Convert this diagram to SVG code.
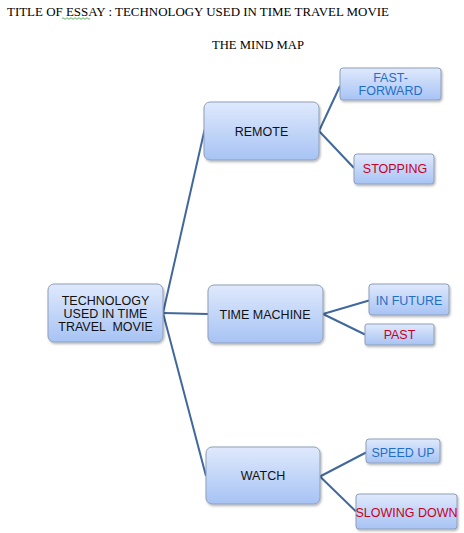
<svg xmlns="http://www.w3.org/2000/svg" width="464" height="533" viewBox="0 0 464 533">
<defs>
<linearGradient id="g" x1="0" y1="0" x2="0" y2="1">
<stop offset="0" stop-color="#dfe9fc"/>
<stop offset="1" stop-color="#a7c3f4"/>
</linearGradient>
<filter id="sh" x="-10%" y="-10%" width="130%" height="140%">
<feDropShadow dx="1" dy="1.5" stdDeviation="1" flood-color="#000" flood-opacity="0.3"/>
</filter>
</defs>
<style>
.box{fill:url(#g);stroke:#8f9fb8;stroke-width:1;filter:url(#sh)}
.t{font-family:"Liberation Sans",Arial,sans-serif;font-size:12.5px;text-anchor:middle}
.k{fill:#111}
.b{fill:#1f6fc8}
.r{fill:#c8001e}
.hd{font-family:"Liberation Serif","Times New Roman",serif;font-size:13px;fill:#000}
.c{stroke:#40689c;stroke-width:2;fill:none}
</style>
<rect width="464" height="533" fill="#fff"/>
<text class="hd" x="7" y="16" textLength="382" lengthAdjust="spacingAndGlyphs">TITLE OF ESSAY  :  TECHNOLOGY USED  IN TIME TRAVEL MOVIE</text>
<path d="M62 18.5 q1 -1.5 2 0 t2 0 t2 0 t2 0 t2 0 t2 0 t2 0 t2 0 t2 0 t2 0 t2 0 t2 0 t2 0 t2 0" stroke="#3aa03a" stroke-width="0.8" fill="none"/>
<text class="hd" x="212" y="48.5" textLength="92" lengthAdjust="spacingAndGlyphs">THE MIND MAP</text>
<g id="connectors">
<line class="c" x1="163" y1="313" x2="204.5" y2="130"/>
<line class="c" x1="163" y1="313" x2="208" y2="314"/>
<line class="c" x1="163" y1="313" x2="206" y2="476"/>
<line class="c" x1="319" y1="131" x2="340" y2="86"/>
<line class="c" x1="319" y1="131" x2="354" y2="168"/>
<line class="c" x1="323" y1="314" x2="369" y2="300.5"/>
<line class="c" x1="323" y1="314" x2="365" y2="334.5"/>
<line class="c" x1="320" y1="476.5" x2="366" y2="452.5"/>
<line class="c" x1="320" y1="476.5" x2="356" y2="511.5"/>
</g>
<g id="center">
<rect class="box" x="48" y="284" width="115" height="58" rx="6"/>
<text class="t k" x="105.5" y="305">TECHNOLOGY</text>
<text class="t k" x="105.5" y="318">USED IN TIME</text>
<text class="t k" x="105.5" y="331" xml:space="preserve">TRAVEL  MOVIE</text>
</g>
<g id="remote">
<rect class="box" x="204" y="102" width="115" height="58" rx="6"/>
<text class="t k" x="261.5" y="135.5">REMOTE</text>
</g>
<g id="timemachine">
<rect class="box" x="208" y="285" width="115" height="58" rx="6"/>
<text class="t k" x="265" y="319">TIME MACHINE</text>
</g>
<g id="watch">
<rect class="box" x="206" y="447" width="114" height="57" rx="6"/>
<text class="t k" x="263" y="480">WATCH</text>
</g>
<g id="fastforward">
<rect class="box" x="340" y="68" width="101" height="32" rx="3"/>
<text class="t b" x="390.5" y="81.5">FAST-</text>
<text class="t b" x="390.5" y="95">FORWARD</text>
</g>
<g id="stopping">
<rect class="box" x="354" y="154" width="80" height="30" rx="3"/>
<text class="t r" x="395" y="173">STOPPING</text>
</g>
<g id="infuture">
<rect class="box" x="369" y="284" width="80" height="31" rx="3"/>
<text class="t b" x="409" y="305">IN FUTURE</text>
</g>
<g id="past">
<rect class="box" x="365" y="324" width="69" height="21" rx="2"/>
<text class="t r" x="399.5" y="339">PAST</text>
</g>
<g id="speedup">
<rect class="box" x="366" y="439" width="74" height="24" rx="3"/>
<text class="t b" x="403" y="456.5">SPEED UP</text>
</g>
<g id="slowingdown">
<rect class="box" x="356" y="494" width="101" height="35" rx="3"/>
<text class="t r" x="406.5" y="517">SLOWING DOWN</text>
</g>
</svg>
